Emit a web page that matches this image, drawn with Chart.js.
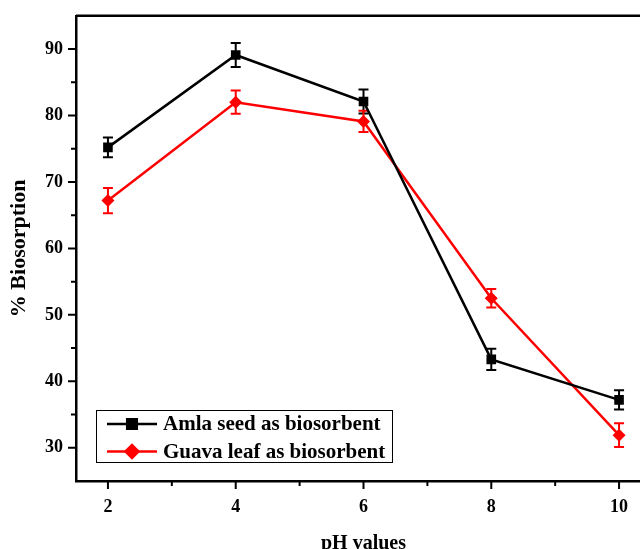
<!DOCTYPE html>
<html>
<head>
<meta charset="utf-8">
<script src="https://cdn.jsdelivr.net/npm/chart.js@4.4.1/dist/chart.umd.min.js"></script>
<style>
  html, body { margin: 0; padding: 0; overflow: hidden; background: #fff; }
  #wrap { width: 660px; height: 560px; }
</style>
</head>
<body>
<div id="wrap"><canvas id="bioPlot" width="660" height="560"></canvas></div>
<script>
// values
var phValues = [2, 4, 6, 8, 10];
var amlaSeed = [75.2, 89.1, 82.1, 43.3, 37.2];
var amlaErr = [1.5, 1.8, 1.8, 1.6, 1.45];
var guavaLeaf = [67.2, 82.0, 79.1, 52.5, 31.9];
var guavaErr = [1.9, 1.75, 1.6, 1.4, 1.8];
var seriesNames = ['Amla seed as biosorbent', 'Guava leaf as biosorbent'];
var xTickValues = [2, 3, 4, 5, 6, 7, 8, 9, 10];

var serif = "'Liberation Serif', 'Times New Roman', serif";

function toPoints(xs, ys) {
  return xs.map(function (x, i) { return { x: x, y: ys[i] }; });
}

// error bars, drawn under the lines and markers
var errorBars = {
  id: 'errorBars',
  beforeDatasetsDraw: function (chart) {
    var ctx = chart.ctx;
    var xs = chart.scales.x, ys = chart.scales.y;
    chart.data.datasets.forEach(function (ds) {
      ctx.save();
      ctx.strokeStyle = ds.borderColor;
      ctx.lineWidth = 2;
      ds.data.forEach(function (p, i) {
        var e = ds.errors[i];
        var px = xs.getPixelForValue(p.x);
        var top = ys.getPixelForValue(p.y + e);
        var bot = ys.getPixelForValue(p.y - e);
        ctx.beginPath();
        ctx.moveTo(px, top); ctx.lineTo(px, bot);
        ctx.moveTo(px - 5, top); ctx.lineTo(px + 5, top);
        ctx.moveTo(px - 5, bot); ctx.lineTo(px + 5, bot);
        ctx.stroke();
      });
      ctx.restore();
    });
  }
};

// frame top line + major/minor tick marks pointing outwards
var frameTicks = {
  id: 'frameTicks',
  afterDraw: function (chart) {
    var ctx = chart.ctx, a = chart.chartArea;
    var xs = chart.scales.x, ys = chart.scales.y;
    ctx.save();
    ctx.strokeStyle = '#000';
    ctx.lineWidth = 2.5;
    ctx.beginPath();
    ctx.moveTo(a.left, a.top); ctx.lineTo(a.right + 20, a.top);
    ctx.stroke();
    ctx.lineWidth = 2;
    ctx.beginPath();
    xs.ticks.forEach(function (t) {
      var px = xs.getPixelForValue(t.value);
      var len = t.value % 2 === 0 ? 8 : 5;
      ctx.moveTo(px, a.bottom); ctx.lineTo(px, a.bottom + len);
    });
    ys.ticks.forEach(function (t) {
      if (t.value <= ys.min || t.value >= ys.max) return;
      var py = ys.getPixelForValue(t.value);
      var len = t.value % 10 === 0 ? 8 : 5;
      ctx.moveTo(a.left, py); ctx.lineTo(a.left - len, py);
    });
    ctx.stroke();
    ctx.restore();
  }
};

// boxed legend in lower left of the plot
var boxLegend = {
  id: 'boxLegend',
  afterDraw: function (chart) {
    var ctx = chart.ctx;
    ctx.save();
    ctx.strokeStyle = '#000';
    ctx.lineWidth = 1;
    ctx.strokeRect(96.5, 410.5, 296, 52);
    chart.data.datasets.forEach(function (ds, i) {
      var y = 424 + i * 27.5;
      ctx.strokeStyle = ds.borderColor;
      ctx.lineWidth = 2.5;
      ctx.beginPath();
      ctx.moveTo(107, y); ctx.lineTo(157, y);
      ctx.stroke();
      Chart.helpers.drawPoint(ctx, {
        pointStyle: ds.pointStyle, radius: ds.pointRadius, borderWidth: 1
      }, 132, y);
      ctx.fillStyle = ds.borderColor;
      ctx.fill();
      ctx.fillStyle = '#000';
      ctx.font = 'bold 21px ' + serif;
      ctx.textAlign = 'left';
      ctx.textBaseline = 'middle';
      ctx.fillText(ds.label, 163, y + 1);
    });
    ctx.restore();
  }
};

const ctx = document.getElementById('bioPlot').getContext('2d');
var myChart = new Chart(ctx, {
  type: 'line',
  data: {
    datasets: [
      {
        label: seriesNames[0],
        data: toPoints(phValues, amlaSeed),
        errors: amlaErr,
        borderColor: '#000000',
        backgroundColor: '#000000',
        borderWidth: 2.5,
        pointStyle: 'rect',
        pointRadius: 6.8,
        pointBorderWidth: 0,
        fill: false,
      },
      {
        label: seriesNames[1],
        data: toPoints(phValues, guavaLeaf),
        errors: guavaErr,
        borderColor: '#ff0000',
        backgroundColor: '#ff0000',
        borderWidth: 2.5,
        pointStyle: 'rectRot',
        pointRadius: 6.5,
        pointBorderWidth: 0,
        fill: false,
      }
    ]
  },
  options: {
    animation: false,
    responsive: false,
    devicePixelRatio: 1,
    layout: { padding: { top: 15, right: 9, left: 0, bottom: 0 } },
    plugins: {
      legend: { display: false },
      tooltip: { enabled: false }
    },
    scales: {
      x: {
        type: 'linear',
        min: 1.5,
        max: 10.5,
        afterBuildTicks: function (s) {
          s.ticks = xTickValues.map(function (v) { return { value: v }; });
        },
        afterFit: function (s) { s.height = 79; },
        border: { display: true, color: '#000', width: 2.5 },
        grid: { drawOnChartArea: false, drawTicks: true, tickLength: 8, tickColor: 'rgba(0,0,0,0)' },
        ticks: {
          autoSkip: false,
          maxRotation: 0,
          padding: 8,
          color: '#000',
          font: { family: serif, size: 18, weight: 'bold' },
          callback: function (v) { return v % 2 === 0 ? String(v) : ''; }
        },
        title: {
          display: true,
          text: 'pH values',
          color: '#000',
          padding: { top: 0, bottom: 4 },
          font: { family: serif, size: 20, weight: 'bold' }
        }
      },
      y: {
        min: 25,
        max: 95,
        afterFit: function (s) { s.width = 76; },
        border: { display: true, color: '#000', width: 2.5 },
        grid: { drawOnChartArea: false, drawTicks: true, tickLength: 8, tickColor: 'rgba(0,0,0,0)' },
        ticks: {
          stepSize: 5,
          autoSkip: false,
          padding: 5,
          color: '#000',
          font: { family: serif, size: 18, weight: 'bold' },
          callback: function (v) { return v % 10 === 0 ? String(v) : ''; }
        },
        title: {
          display: true,
          text: '% Biosorption',
          color: '#000',
          padding: { top: 6, bottom: 0 },
          font: { family: serif, size: 22, weight: 'bold' }
        }
      }
    }
  },
  plugins: [errorBars, frameTicks, boxLegend]
});
</script>
</body>
</html>
